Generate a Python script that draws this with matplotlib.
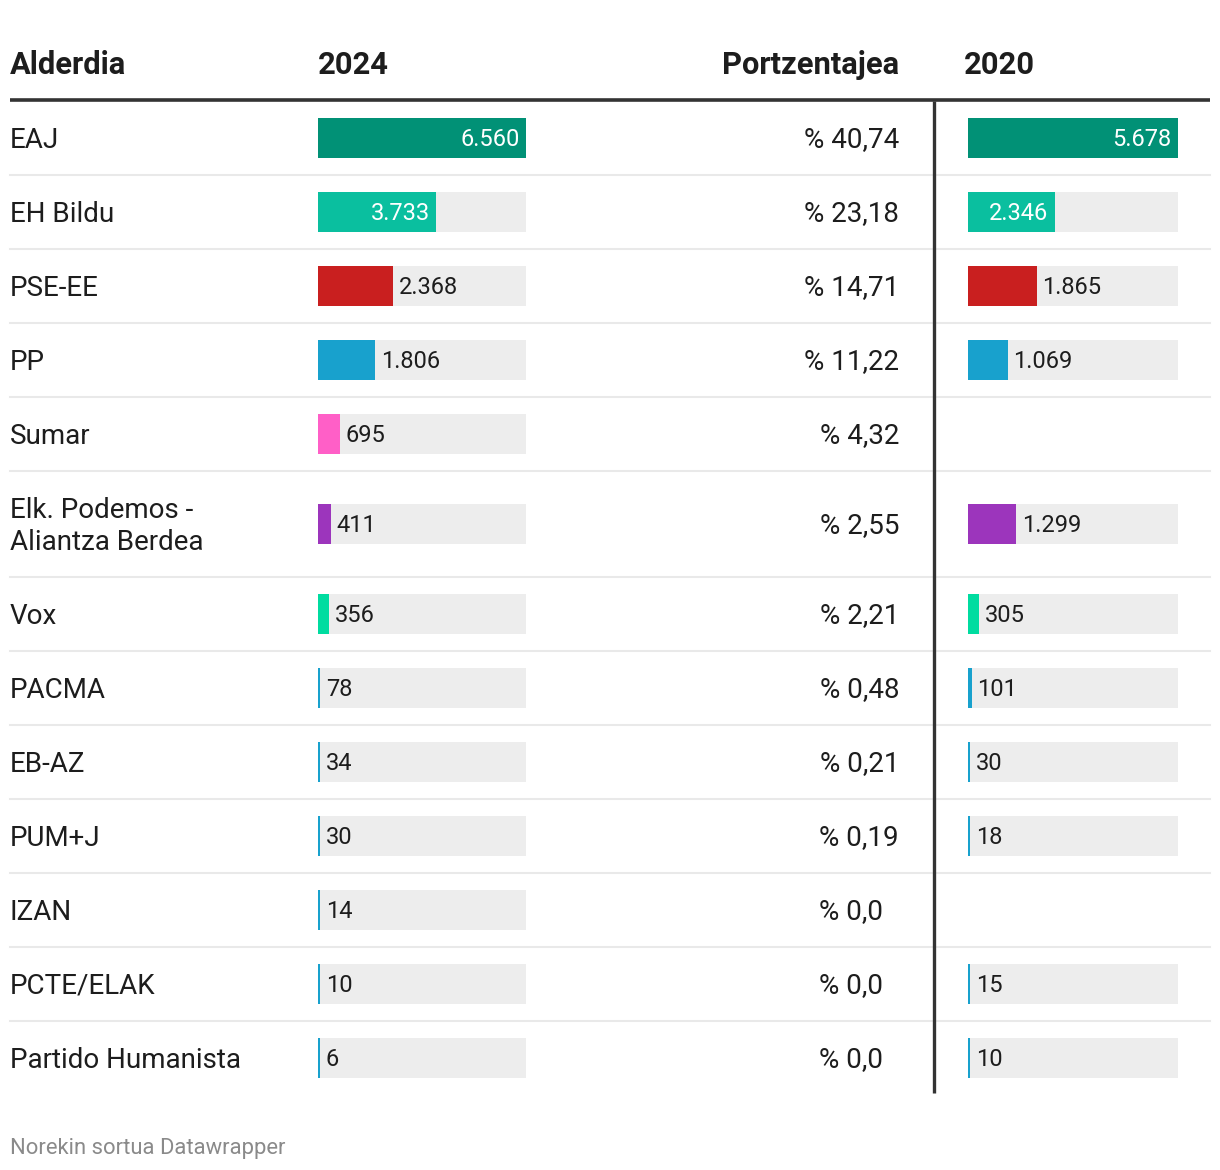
import numpy as np
import matplotlib.pyplot as plt

# table data
parties = ['EAJ', 'EH Bildu', 'PSE-EE', 'PP', 'Sumar', 'Elk. Podemos -\nAliantza Berdea',
           'Vox', 'PACMA', 'EB-AZ', 'PUM+J', 'IZAN', 'PCTE/ELAK', 'Partido Humanista']
votes_2024 = [6560, 3733, 2368, 1806, 695, 411, 356, 78, 34, 30, 14, 10, 6]
percent = ['% 40,74', '% 23,18', '% 14,71', '% 11,22', '% 4,32', '% 2,55', '% 2,21',
           '% 0,48', '% 0,21', '% 0,19', '% 0,0', '% 0,0', '% 0,0']
votes_2020 = [5678, 2346, 1865, 1069, None, 1299, 305, 101, 30, 18, None, 15, 10]
colors = ['#019176', '#0abf9f', '#c91f1f', '#18a1cd', '#ff5fc7', '#9c35bc', '#00dca0',
          '#18a1cd', '#18a1cd', '#18a1cd', '#18a1cd', '#18a1cd', '#18a1cd']
headers = ['Alderdia', '2024', 'Portzentajea', '2020']

plt.rcParams['font.family'] = ['Roboto', 'DejaVu Sans']
TXT = '#1d1d1d'

W, H = 1220, 1170
fig = plt.figure(figsize=(W / 100, H / 100), dpi=100)
ax = fig.add_axes([0, 0, 1, 1])
ax.set_xlim(0, W)
ax.set_ylim(H, 0)
ax.axis('off')

# row geometry (pixels)
row_h = [106 if '\n' in p else 74 for p in parties]
tops = 101 + np.concatenate([[0], np.cumsum(row_h)[:-1]])
centers = tops + np.array(row_h) / 2
bottom = tops[-1] + row_h[-1]

# header
hkw = dict(fontsize=22.2, fontweight='bold', color=TXT, va='baseline')
ax.text(10, 74.5, headers[0], **hkw)
ax.text(318, 74.5, headers[1], **hkw)
ax.text(899, 74.5, headers[2], ha='right', **hkw)
ax.text(964, 74.5, headers[3], **hkw)
ax.plot([10, 1210], [100, 100], color='#333333', lw=2.6, solid_capstyle='butt')

for i in range(len(parties)):
    if i < len(parties) - 1:
        yb = tops[i] + row_h[i]
        ax.plot([10, 1210], [yb, yb], color='#e9e9e9', lw=1.5)
    lines = parties[i].split('\n')
    if len(lines) == 1:
        ax.text(10, centers[i] + 9.5, lines[0], fontsize=20, color=TXT, va='baseline')
    else:
        ax.text(10, centers[i] - 6, lines[0], fontsize=20, color=TXT, va='baseline')
        ax.text(10, centers[i] + 26, lines[1], fontsize=20, color=TXT, va='baseline')
    pct = percent[i]
    xr = 899 if len(pct.split(',')[1]) == 2 else 883
    ax.text(xr, centers[i] + 9.5, pct, fontsize=20, color=TXT, ha='right', va='baseline')

ax.plot([934, 934], [101, bottom - 2], color='#333333', lw=2.4, solid_capstyle='butt')

ax.text(10, 1154, 'Norekin sortua Datawrapper', fontsize=15.8, color='#8a8a8a')


def fmt(v):
    return f'{v:,}'.replace(',', '.')


def bar_column(x0, width, values):
    vmax = max(v for v in values if v is not None)
    bax = fig.add_axes([x0 / W, 0, width / W, 1])
    bax.set_xlim(0, vmax)
    bax.set_ylim(H, 0)
    bax.axis('off')
    bax.patch.set_alpha(0)
    for i, v in enumerate(values):
        if v is None:
            continue
        bw = max(v, vmax * 0.011)
        bax.barh(centers[i], vmax, height=40, color='#ededed', lw=0)
        bax.barh(centers[i], bw, height=40, color=colors[i], lw=0)
        if v / vmax > 0.38:
            bax.annotate(fmt(v), (bw, centers[i] + 8), xytext=(-4.5, 0),
                         textcoords='offset points', ha='right', va='baseline',
                         fontsize=17, color='white')
        else:
            bax.annotate(fmt(v), (bw, centers[i] + 8), xytext=(4, 0),
                         textcoords='offset points', ha='left',
                         va='baseline', fontsize=17, color=TXT)


bar_column(318, 208, votes_2024)
bar_column(968, 210, votes_2020)

fig.savefig('out.png', dpi=100)
